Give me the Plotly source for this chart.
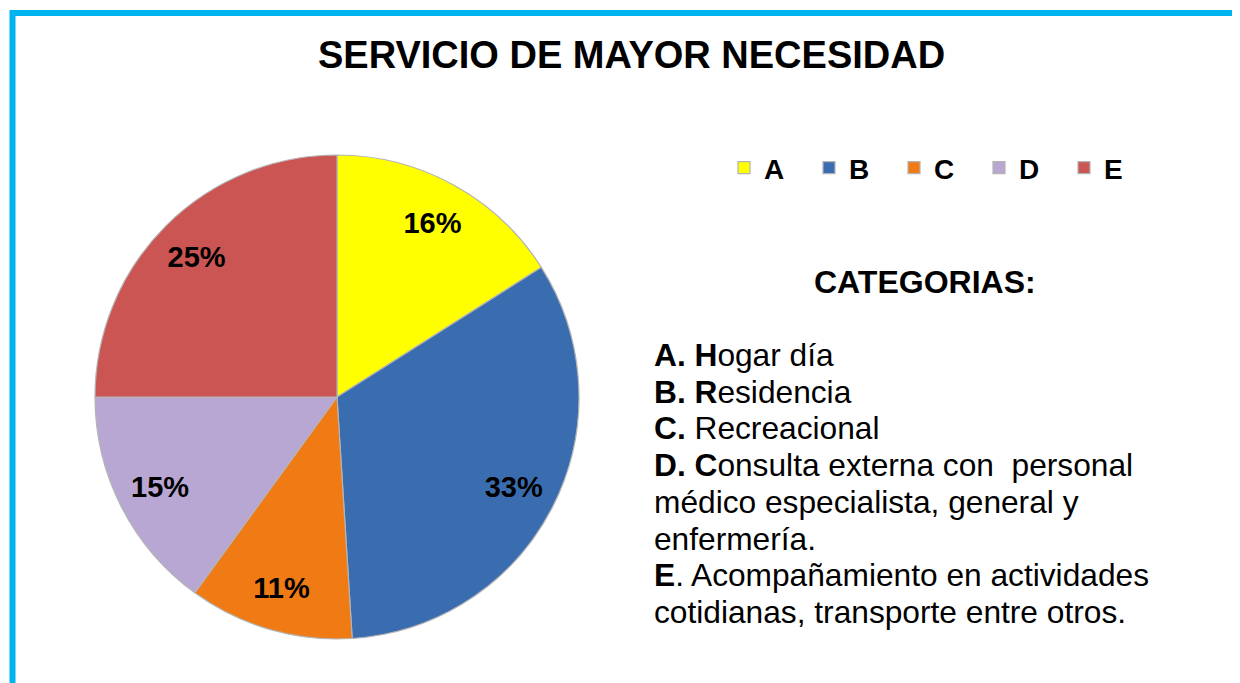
import plotly.graph_objects as go

# data
categorias = ["A", "B", "C", "D", "E"]
porcentajes = [16, 33, 11, 15, 25]
colores = ["#FFFF00", "#3A6DB0", "#F07A14", "#B9A7D3", "#CB5553"]

titulo = "SERVICIO DE MAYOR NECESIDAD"
subtitulo = "CATEGORIAS:"
descripciones = [
    "<b>A. H</b>ogar día",
    "<b>B. R</b>esidencia",
    "<b>C.</b> Recreacional",
    "<b>D. C</b>onsulta externa con  personal",
    "médico especialista, general y",
    "enfermería.",
    "<b>E</b>. Acompañamiento en actividades",
    "cotidianas, transporte entre otros.",
]

W, H = 1240, 683
OFF = 8  # the page body adds an 8px margin around the figure
FONT = "Liberation Sans, Arial, sans-serif"


def px(x):
    return (x - OFF) / W


def py(y):
    return 1 - (y - OFF) / H


dominio = dict(x=[px(95), px(579)], y=[py(639), py(155)])

fig = go.Figure()
# the coloured slices
fig.add_trace(go.Pie(
    labels=categorias,
    values=porcentajes,
    sort=False,
    direction="clockwise",
    rotation=0,
    marker=dict(colors=colores, line=dict(color="#b4b4b4", width=1.2)),
    textinfo="none",
    domain=dominio,
    hoverinfo="label+percent",
))
# transparent ring on top, only to push the percent labels outward
fig.add_trace(go.Pie(
    labels=categorias,
    values=porcentajes,
    sort=False,
    direction="clockwise",
    rotation=0,
    hole=0.64,
    showlegend=False,
    marker=dict(colors=["rgba(0,0,0,0)"] * len(categorias),
                line=dict(width=0)),
    texttemplate="<b>%{percent:.0%}</b>",
    textposition="inside",
    insidetextorientation="horizontal",
    textfont=dict(family=FONT, size=29, color="black"),
    domain=dominio,
    hoverinfo="skip",
))

anotaciones = [
    dict(text="<b>" + titulo + "</b>", x=px(632), y=py(55),
         xref="paper", yref="paper", xanchor="center", yanchor="middle",
         showarrow=False, font=dict(family=FONT, size=38, color="black")),
    dict(text="<b>" + subtitulo + "</b>", x=px(925), y=py(282),
         xref="paper", yref="paper", xanchor="center", yanchor="middle",
         showarrow=False, font=dict(family=FONT, size=32, color="black")),
]
for i, linea in enumerate(descripciones):
    anotaciones.append(dict(
        text=linea, x=px(652), y=py(355 + 36.7 * i),
        xref="paper", yref="paper", xanchor="left", yanchor="middle",
        align="left", showarrow=False,
        font=dict(family=FONT, size=31.7, color="black")))

fig.update_layout(
    width=W, height=H,
    margin=dict(l=0, r=0, t=0, b=0),
    paper_bgcolor="white",
    font=dict(family=FONT, color="black"),
    showlegend=True,
    legend=dict(
        orientation="h",
        x=px(724), xanchor="left",
        y=py(168), yanchor="middle",
        font=dict(family=FONT, size=28, color="black", weight="bold"),
        entrywidth=40, entrywidthmode="pixels",
        itemclick=False,
    ),
    annotations=anotaciones,
    shapes=[
        dict(type="rect", xref="paper", yref="paper",
             x0=px(12.5), x1=1.05, y0=-0.05, y1=py(13),
             line=dict(color="#00B4F0", width=6)),
    ],
)

fig.write_html("out.html")
